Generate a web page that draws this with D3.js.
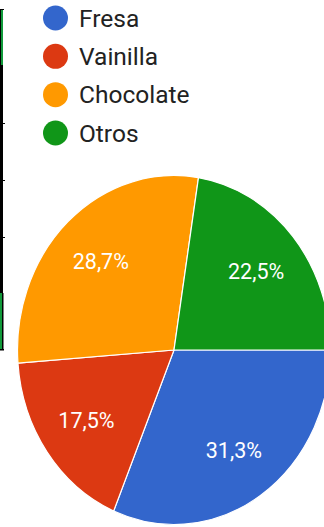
<!DOCTYPE html>
<html>
<head>
<meta charset="utf-8">
<script src="https://cdn.jsdelivr.net/npm/d3@7/dist/d3.min.js"></script>
<style>
  html, body { margin: 0; padding: 0; background: #fff; }
  svg { display: block; }
</style>
</head>
<body>
<svg id="chart" width="324" height="527"></svg>
<script>
// Flavour shares (percent)
const categories = ["Fresa", "Vainilla", "Chocolate", "Otros"];
const values = [31.3, 17.5, 28.7, 22.5];
const colors = ["#3366cc", "#dc3912", "#ff9900", "#109618"];

const W = 324, H = 527;
const svg = d3.select("#chart");

// Frame fragment along the left edge
const frame = svg.append("g");
frame.append("rect").attr("x", 0).attr("y", 10).attr("width", 1).attr("height", 55).attr("fill", "#000");
frame.append("rect").attr("x", 1).attr("y", 10).attr("width", 2).attr("height", 55).attr("fill", "#119a3a");
frame.append("rect").attr("x", 0).attr("y", 9).attr("width", 4).attr("height", 1).attr("fill", "#000");
frame.append("rect").attr("x", 0).attr("y", 65).attr("width", 3).attr("height", 228).attr("fill", "#000");
[123, 180, 237].forEach(y => {
  frame.append("rect").attr("x", 0).attr("y", y).attr("width", 5).attr("height", 1).attr("fill", "#000");
});
frame.append("rect").attr("x", 0).attr("y", 293).attr("width", 2).attr("height", 57).attr("fill", "#119a3a");
frame.append("rect").attr("x", 2).attr("y", 293).attr("width", 1.5).attr("height", 57).attr("fill", "#000");
frame.append("rect").attr("x", 0).attr("y", 349).attr("width", 4).attr("height", 1.5).attr("fill", "#000");

// Legend
const legend = svg.append("g").attr("font-family", "Roboto, Arial, sans-serif");
const rowY = d3.scalePoint().domain(categories).range([18, 133]);
const legendRows = legend.selectAll("g.row").data(categories).join("g")
  .attr("class", "row")
  .attr("transform", d => `translate(0,${rowY(d)})`);
legendRows.append("circle")
  .attr("cx", 55.5).attr("cy", 0).attr("r", 12.5)
  .attr("fill", (d, i) => colors[i]);
legendRows.append("text")
  .attr("x", 79).attr("y", 8.5)
  .attr("font-size", 24.5)
  .attr("fill", "#222")
  .text(d => d);

// Pie (drawn as an ellipse)
const cx = 174, cy = 350, rx = 156.5, ry = 174.5;
const pie = d3.pie().sort(null)
  .startAngle(Math.PI / 2)
  .endAngle(Math.PI / 2 + 2 * Math.PI);
const arcs = pie(values);
const arc = d3.arc().innerRadius(0).outerRadius(ry);

const pieG = svg.append("g").attr("transform", `translate(${cx},${cy})`);
pieG.append("g")
  .attr("transform", `scale(${rx / ry},1)`)
  .selectAll("path").data(arcs).join("path")
  .attr("d", arc)
  .attr("fill", (d, i) => colors[i])
  .attr("stroke", "#fff")
  .attr("stroke-width", 1.2)
  .attr("vector-effect", "non-scaling-stroke");

// Percentage labels
const fmt = v => d3.format(".1f")(v).replace(".", ",") + "%";
const labelFrac = 0.69;
pieG.selectAll("text").data(arcs).join("text")
  .attr("x", d => Math.sin((d.startAngle + d.endAngle) / 2) * rx * labelFrac)
  .attr("y", d => -Math.cos((d.startAngle + d.endAngle) / 2) * ry * labelFrac)
  .attr("dy", "0.35em")
  .attr("text-anchor", "middle")
  .attr("font-family", "Roboto, Arial, sans-serif")
  .attr("font-size", 21.5)
  .attr("fill", "#fff")
  .text(d => fmt(d.data));
</script>
</body>
</html>
